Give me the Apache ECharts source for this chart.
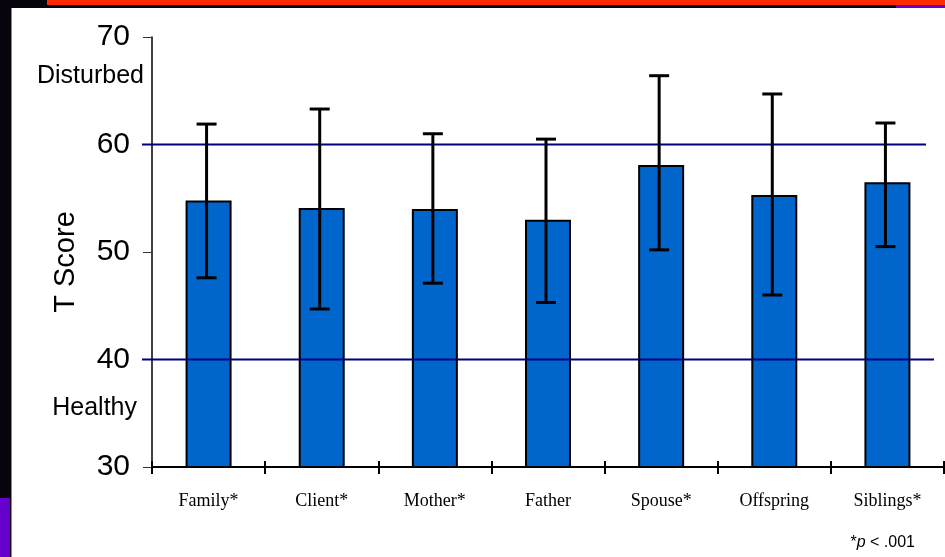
<!DOCTYPE html>
<html>
<head>
<meta charset="utf-8">
<script src="https://cdn.jsdelivr.net/npm/echarts@6/dist/echarts.min.js"></script>
<style>
  html, body { margin: 0; padding: 0; background: #fff; }
  #chart { width: 945px; height: 557px; }
</style>
</head>
<body>
<div id="chart"></div>
<script>
const categories = ['Family*', 'Client*', 'Mother*', 'Father', 'Spouse*', 'Offspring', 'Siblings*'];
const means = [54.8, 54.1, 54.0, 53.0, 58.1, 55.3, 56.5];
const errLow = [47.6, 44.7, 47.1, 45.3, 50.2, 46.0, 50.5];
const errHigh = [61.9, 63.3, 61.0, 60.5, 66.4, 64.7, 62.0];
const refLines = [60, 40];
const yMin = 30, yMax = 70, yStep = 10;

const chart = echarts.init(document.getElementById('chart'));

const errData = categories.map((c, i) => [i, errLow[i], errHigh[i]]);

const option = {
  backgroundColor: '#fff',
  animation: false,
  grid: { left: 152, right: 1, top: 37, bottom: 90, containLabel: false, outerBoundsMode: 'none' },
  xAxis: [
    {
      type: 'category',
      data: categories,
      position: 'bottom',
      axisLine: { lineStyle: { color: '#000', width: 2 } },
      axisTick: { show: true, interval: 0, length: 7, lineStyle: { color: '#000', width: 2 } },
      axisLabel: {
        interval: 0, margin: 25,
        fontFamily: '"Liberation Serif", "Times New Roman", serif',
        fontSize: 18, color: '#000'
      }
    },
    {
      type: 'category',
      data: categories,
      position: 'bottom',
      offset: -6,
      axisLine: { show: false },
      axisTick: { show: true, interval: 0, length: 6, lineStyle: { color: '#000', width: 2 } },
      axisLabel: { show: false }
    }
  ],
  yAxis: {
    type: 'value',
    min: yMin, max: yMax, interval: yStep,
    axisLine: { show: true, lineStyle: { color: '#000', width: 1.5 } },
    axisTick: { show: true, length: 9, lineStyle: { color: '#333', width: 1 } },
    splitLine: { show: false },
    axisLabel: {
      margin: 22,
      fontFamily: '"Liberation Sans", Arial, sans-serif',
      fontSize: 30, color: '#000'
    }
  },
  series: [
    {
      type: 'bar',
      data: means,
      barWidth: 46,
      itemStyle: { color: '#0066CC', borderColor: '#000', borderWidth: 2 },
      z: 2
    },
    {
      type: 'custom',
      data: refLines.map(v => [v]),
      encode: { y: 0 },
      z: 3,
      renderItem: (params, api) => {
        const cs = params.coordSys;
        const y = api.coord([0, api.value(0)])[1];
        const trim = params.dataIndex === 0 ? 18 : 10;
        return {
          type: 'line',
          shape: { x1: cs.x - 10, y1: y, x2: cs.x + cs.width - trim, y2: y },
          style: { stroke: '#000080', lineWidth: 2 }
        };
      }
    },
    {
      type: 'custom',
      data: errData,
      encode: { x: 0, y: [1, 2] },
      z: 4,
      renderItem: (params, api) => {
        const lo = api.coord([api.value(0), api.value(1)]);
        const hi = api.coord([api.value(0), api.value(2)]);
        const x = lo[0] - 2;
        const cap = 10;
        const st = { stroke: '#000', lineWidth: 3 };
        return {
          type: 'group',
          children: [
            { type: 'line', shape: { x1: x, y1: lo[1], x2: x, y2: hi[1] }, style: st },
            { type: 'line', shape: { x1: x - cap, y1: lo[1], x2: x + cap, y2: lo[1] }, style: st },
            { type: 'line', shape: { x1: x - cap, y1: hi[1], x2: x + cap, y2: hi[1] }, style: st }
          ]
        };
      }
    }
  ],
  graphic: [
    { type: 'rect', left: 0, top: 0, shape: { width: 945, height: 8 }, style: { fill: '#08040e' }, silent: true },
    { type: 'rect', left: 47, top: 0, shape: { width: 898, height: 5 }, style: { fill: '#ff2a00' }, silent: true },
    { type: 'rect', left: 896, top: 5, shape: { width: 49, height: 3 }, style: { fill: '#6a00cc' }, silent: true },
    { type: 'rect', left: 0, top: 0, shape: { width: 11, height: 557 }, style: { fill: '#08040e' }, silent: true },
    { type: 'rect', left: 11, top: 8, shape: { width: 1, height: 549 }, style: { fill: '#888' }, silent: true },
    { type: 'rect', left: 0, top: 498, shape: { width: 10, height: 59 }, style: { fill: '#6600cc' }, silent: true },
    {
      type: 'text', x: 66, y: 262, rotation: Math.PI / 2,
      style: {
        text: 'T Score', font: '29px "Liberation Sans", Arial, sans-serif', fill: '#000',
        textAlign: 'center', textVerticalAlign: 'middle'
      }
    },
    {
      type: 'text', right: 801, top: 64,
      style: { text: 'Disturbed', font: '25px "Liberation Sans", Arial, sans-serif', fill: '#000' }
    },
    {
      type: 'text', right: 808, top: 396,
      style: { text: 'Healthy', font: '25px "Liberation Sans", Arial, sans-serif', fill: '#000' }
    },
    {
      type: 'text', right: 30, top: 535,
      style: {
        text: '{a|*}{b|p}{a| < .001}',
        rich: {
          a: { fontFamily: '"Liberation Sans", Arial, sans-serif', fontSize: 16, fill: '#000' },
          b: { fontFamily: '"Liberation Sans", Arial, sans-serif', fontSize: 16, fontStyle: 'italic', fill: '#000' }
        }
      }
    }
  ]
};

chart.setOption(option);
window.addEventListener('resize', () => chart.resize());
</script>
</body>
</html>
